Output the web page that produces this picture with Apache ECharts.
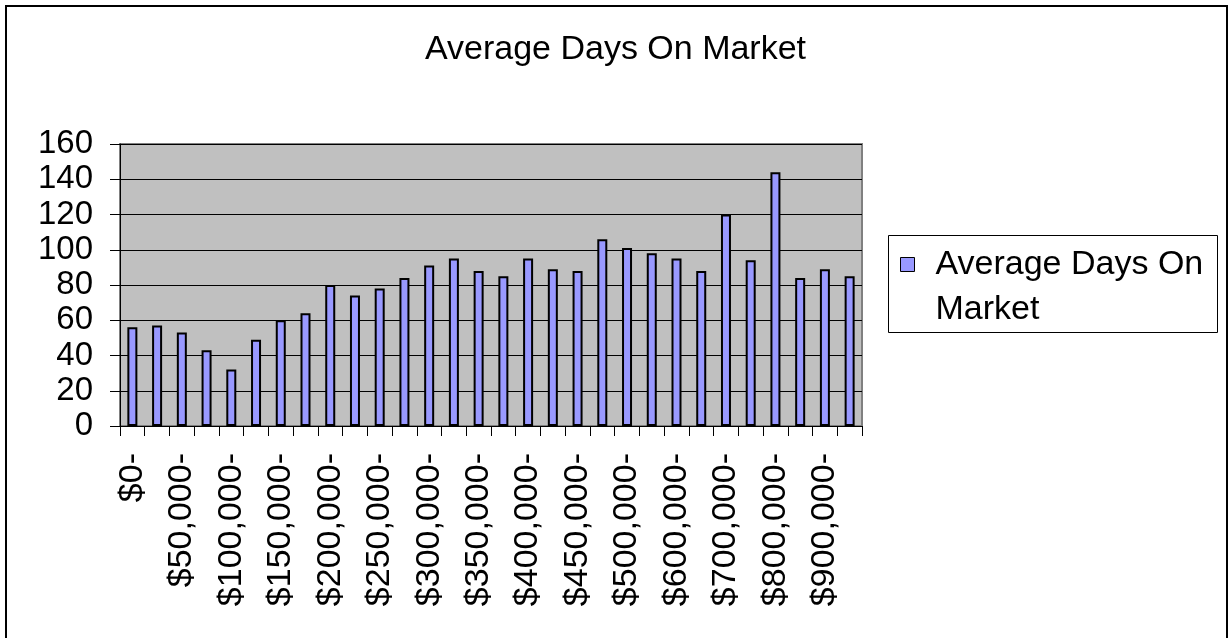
<!DOCTYPE html>
<html>
<head>
<meta charset="utf-8">
<script src="https://cdn.jsdelivr.net/npm/echarts@6/dist/echarts.min.js"></script>
<style>
  html, body { margin: 0; padding: 0; background: #fff; }
  #main { width: 1231px; height: 638px; }
</style>
</head>
<body>
<div id="main"></div>
<script>
// 价格区间
var priceRanges = ['$0-', '$25,000-', '$50,000-', '$75,000-', '$100,000-', '$125,000-',
    '$150,000-', '$175,000-', '$200,000-', '$225,000-', '$250,000-', '$275,000-',
    '$300,000-', '$325,000-', '$350,000-', '$375,000-', '$400,000-', '$425,000-',
    '$450,000-', '$475,000-', '$500,000-', '$550,000-', '$600,000-', '$650,000-',
    '$700,000-', '$750,000-', '$800,000-', '$850,000-', '$900,000-', '$950,000-'];
// 平均在售天数
var avgDays = [56, 57, 53, 43, 32, 49, 60, 64, 80, 74, 78, 84, 91, 95, 88, 85,
    95, 89, 88, 106, 101, 98, 95, 88, 120, 94, 144, 84, 89, 85];
var yTicks = { min: 0, max: 160, step: 20 };
var seriesName = 'Average Days On Market';

var myChart = echarts.init(document.getElementById('main'));
var font = 'Liberation Sans, Arial, sans-serif';
var option = {
    backgroundColor: '#fff',
    animation: false,
    title: {
        text: seriesName,
        left: 'center',
        top: 28,
        textStyle: { fontFamily: font, fontSize: 34, fontWeight: 'normal', color: '#000' }
    },
    legend: {
        left: 895,
        top: 192,
        icon: 'rect',
        itemWidth: 14,
        itemHeight: 14,
        itemGap: 0,
        data: [seriesName],
        // 首行空行，让图标对齐第一行文字
        formatter: function () { return '\nAverage Days On\nMarket'; },
        itemStyle: { color: '#9999ff', borderColor: '#000', borderWidth: 1 },
        textStyle: { fontFamily: font, fontSize: 34, color: '#000', lineHeight: 45, padding: [0, 0, 0, 16] }
    },
    grid: {
        left: 120,
        right: 369,
        top: 144,
        bottom: 212,
        show: true,
        backgroundColor: '#c0c0c0',
        borderColor: '#808080',
        borderWidth: 2
    },
    xAxis: {
        type: 'category',
        data: priceRanges,
        boundaryGap: true,
        axisLine: { lineStyle: { color: '#000', width: 1 } },
        axisTick: { show: true, interval: 0, length: 10, lineStyle: { color: '#000' } },
        axisLabel: {
            interval: 1,
            rotate: 90,
            margin: 27,
            fontFamily: font,
            fontSize: 34,
            color: '#000'
        }
    },
    yAxis: {
        type: 'value',
        min: yTicks.min,
        max: yTicks.max,
        interval: yTicks.step,
        axisLine: { show: true, lineStyle: { color: '#000', width: 1 } },
        axisTick: { show: true, length: 10, lineStyle: { color: '#000' } },
        axisLabel: { margin: 27, fontFamily: font, fontSize: 33, color: '#000' },
        splitLine: { show: true, lineStyle: { color: '#000', width: 1 } }
    },
    graphic: [
        {   // 外框
            type: 'rect',
            shape: { x: 6, y: 6, width: 1221, height: 700 },
            style: { fill: null, stroke: '#000', lineWidth: 2 },
            silent: true
        },
        {   // 图例框
            type: 'rect',
            shape: { x: 888.5, y: 235.5, width: 329, height: 97 },
            style: { fill: null, stroke: '#000', lineWidth: 1 },
            silent: true
        }
    ],
    series: [
        {
            name: seriesName,
            type: 'bar',
            barWidth: 10,
            data: avgDays,
            itemStyle: { color: '#9999ff', borderColor: '#000', borderWidth: 2 }
        }
    ]
};
myChart.setOption(option);
</script>
</body>
</html>
